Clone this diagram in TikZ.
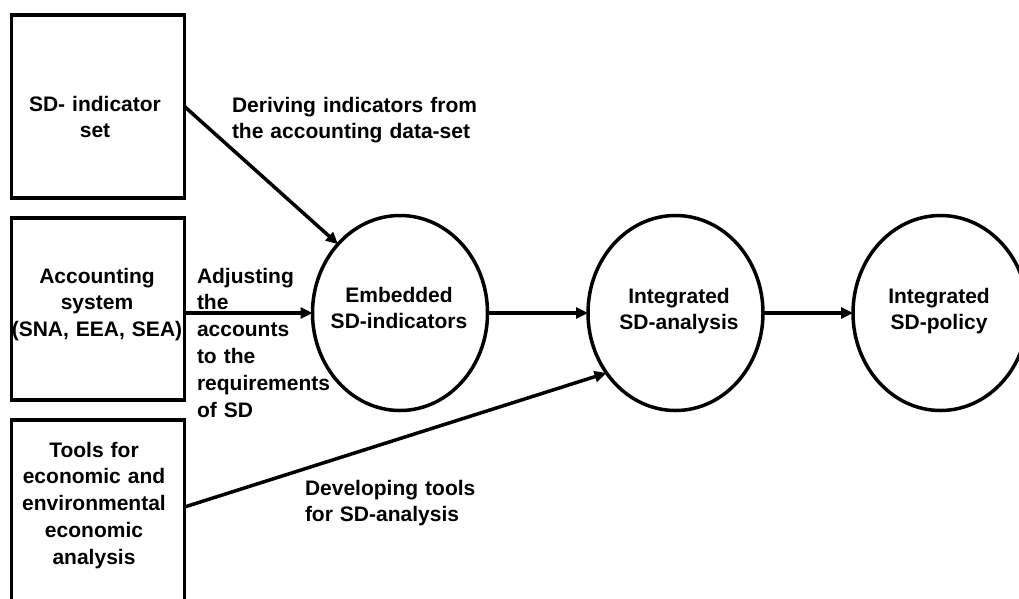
\documentclass[tikz,border=0pt]{standalone}
\usepackage{fontspec}
\setmainfont{Liberation Sans}
\usetikzlibrary{shapes.geometric,arrows.meta}
\begin{document}
\begin{tikzpicture}[x=1pt,y=-1pt,
  every node/.style={inner sep=0pt, outer sep=0pt},
  labelfont/.style={font=\fontsize{21}{26.8}\selectfont\bfseries},
  ctext/.style={labelfont, text width=#1, align=center, anchor=base},
  ctext/.default=180pt,
  ltext/.style={labelfont, text width=#1, align=left, anchor=base west},
  ltext/.default=260pt,
  srcbox/.style={draw, line width=3.5pt, rectangle, minimum width=173pt, minimum height=#1, anchor=north west},
  stage/.style={draw, line width=3.5pt, ellipse, minimum width=175pt, minimum height=195pt},
  arr/.style={line width=3.5pt, -{Triangle[length=12pt,width=11pt]}}
]
\useasboundingbox (0,0) rectangle (1019,598);
\clip (0,0) rectangle (1019,598);
\fill[white] (0,0) rectangle (1019,598);

% source boxes on the left
\node[srcbox=183pt] (sd) at (11.5,15) {};
\node[srcbox=182pt] (acc) at (11.5,218) {};
\node[srcbox=240pt] (tools) at (11.5,420) {};

\node[ctext] (sdT) at (95,111) {SD- indicator\\set};
\node[ctext] (accT) at (97,283) {Accounting\\system\\(SNA, EEA, SEA)};
\node[ctext] (toolsT) at (94,457) {Tools for\\economic and\\environmental\\economic\\analysis};

% stages
\node[stage] (emb) at (400,313) {};
\node[stage] (ana) at (675.5,313) {};
\node[stage] (pol) at (940.5,313) {};

\node[ctext=170pt] (embT) at (399,302) {Embedded\\SD-indicators};
\node[ctext=170pt] (anaT) at (679,303) {Integrated\\SD-analysis};
\node[ctext=170pt] (polT) at (939,303) {Integrated\\SD-policy};

% connectors
\draw[arr] (sd.east) -- (emb.132);
\draw[arr] (acc.east |- emb.west) -- (emb.west);
\draw[arr] (emb.east) -- (ana.west);
\draw[arr] (ana.east) -- (pol.west);
\draw[arr] ([yshift=-87pt]tools.north east) -- (ana.221);

% connector labels
\node[ltext] (derT) at (232,112) {Deriving indicators from\\the accounting data-set};
\node[ltext=150pt] (adjT) at (197,283) {Adjusting\\the\\accounts\\to the\\requirements\\of SD};
\node[ltext] (devT) at (305,495) {Developing tools\\for SD-analysis};
\end{tikzpicture}
\end{document}
